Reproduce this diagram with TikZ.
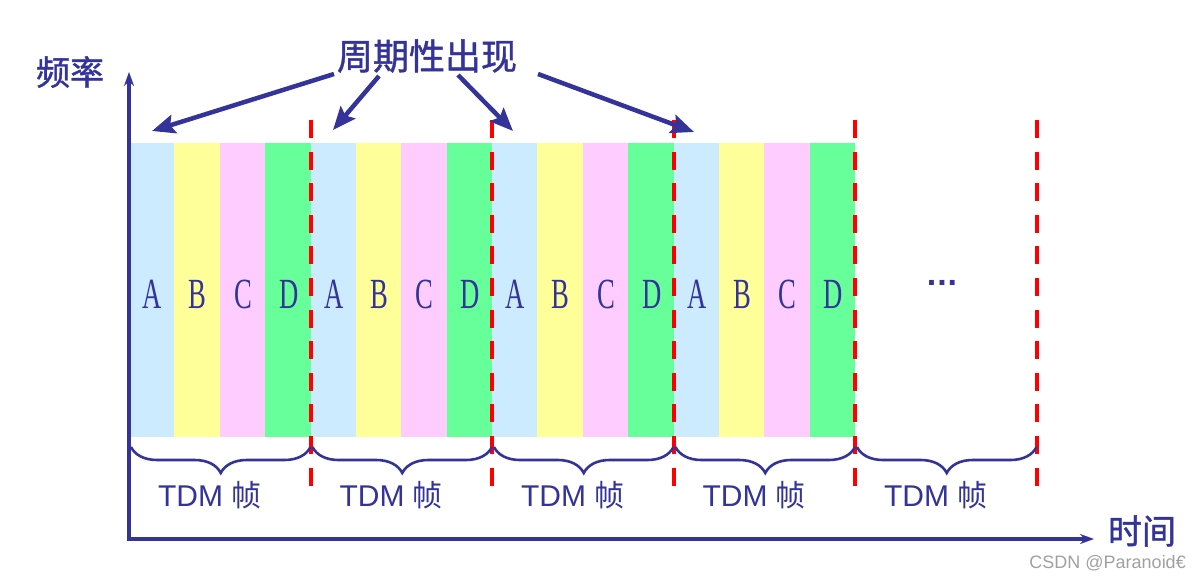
\documentclass[tikz,border=0pt]{standalone}
\usepackage{fontspec}
\setmainfont{Liberation Serif}
\setsansfont{Liberation Sans}
\newfontfamily\cjk{Noto Sans CJK SC}
\newfontfamily\cjkb[FakeBold=1.2]{Noto Sans CJK SC}
\newfontfamily\narrowserif[FakeStretch=0.62]{Liberation Serif}
\usetikzlibrary{arrows.meta,decorations.pathreplacing}
\definecolor{tblue}{HTML}{333399}
\definecolor{cA}{HTML}{CCEBFF}
\definecolor{cB}{HTML}{FFFF99}
\definecolor{cC}{HTML}{FFCCFF}
\definecolor{cD}{HTML}{66FF99}
\definecolor{wgray}{HTML}{A0A0A0}
\tikzset{
  slotbox/.style={fill=#1, draw=none},
  slotlabel/.style={text=tblue, font=\narrowserif\fontsize{43}{43}\selectfont, inner sep=0pt},
  framesep/.style={draw=red, line width=4pt, dash pattern=on 18pt off 13.6pt},
  framebrace/.style={draw=tblue, line width=2.6pt, decorate, decoration={brace, mirror, amplitude=26pt, aspect=0.5}},
  framelabel/.style={text=tblue, inner sep=0pt, font=\sffamily\fontsize{30}{30}\selectfont},
  pointer/.style={draw=tblue, line width=4.5pt, -{Stealth[length=23pt,width=19pt,inset=4pt]}},
  axis/.style={draw=tblue, line width=4pt, {Stealth[length=14pt,width=10pt]}-{Stealth[length=14pt,width=10pt]}},
  biglabel/.style={text=tblue, inner sep=0pt, font=\cjkb\fontsize{34}{34}\selectfont},
}
\begin{document}
\begin{tikzpicture}[x=1pt,y=-1pt]
\useasboundingbox (0,0) rectangle (1200,580);
% colour slots
\foreach \f in {0,1,2,3}{
  \foreach \c/\col/\lbl in {0/cA/A,1/cB/B,2/cC/C,3/cD/D}{
    \pgfmathsetmacro{\xa}{129+181.5*\f+45.375*\c}
    \pgfmathsetmacro{\xb}{\xa+45.375}
    \pgfmathsetmacro{\xm}{\xa+23.5}
    \path[slotbox=\col] (\xa,143) rectangle (\xb,437);
    \node[slotlabel] (L\f\c) at (\xm,294) {\lbl};
  }
}
% dashed frame separators
\foreach \i in {1,...,5}{
  \pgfmathsetmacro{\xs}{129+181.5*\i}
  \coordinate (s\i t) at (\xs,120);
  \coordinate (s\i b) at (\xs,486);
  \draw[framesep] (s\i t) -- (s\i b);
}
% braces and labels
\foreach \i in {0,...,4}{
  \pgfmathsetmacro{\xl}{131+181.5*\i}
  \pgfmathsetmacro{\xr}{310.5+181.5*\i}
  \pgfmathsetmacro{\xc}{(\xl+\xr)/2-11}
  \coordinate (bl\i) at (\xl,447);
  \coordinate (br\i) at (\xr,447);
  \draw[framebrace] (bl\i) -- (br\i);
  \node[framelabel] (T\i) at (\xc,495) {TDM {\cjk\fontsize{30}{30}\selectfont 帧}};
}
% dots
\node[text=tblue, inner sep=0pt, font=\sffamily\bfseries\fontsize{34}{34}\selectfont] (dots) at (942,283) {.\hspace{1pt}.\hspace{1pt}.};
% axes
\coordinate (ytip) at (129,72);
\coordinate (origin) at (129,539);
\coordinate (xtip) at (1094,539);
\draw[axis] (ytip) -- (origin) -- (xtip);
\node[biglabel] (ylab) at (70,72) {频率};
\node[biglabel] (xlab) at (1142,531) {时间};
% title and pointers
\node[biglabel, font=\cjkb\fontsize{36}{36}\selectfont] (title) at (427,56) {周期性出现};
\coordinate (p1s) at (334,74);
\coordinate (p1e) at (152,131);
\coordinate (p2s) at (379,76);
\coordinate (p2e) at (333,130);
\coordinate (p3s) at (458,75);
\coordinate (p3e) at (513,131);
\coordinate (p4s) at (538,74);
\coordinate (p4e) at (694,132);
\draw[pointer] (p1s) -- (p1e);
\draw[pointer] (p2s) -- (p2e);
\draw[pointer] (p3s) -- (p3e);
\draw[pointer] (p4s) -- (p4e);
% watermark
\node[text=wgray, inner sep=0pt, anchor=east, font=\sffamily\fontsize{18}{18}\selectfont] (wm) at (1186,563) {CSDN @Paranoid€};
\end{tikzpicture}
\end{document}
